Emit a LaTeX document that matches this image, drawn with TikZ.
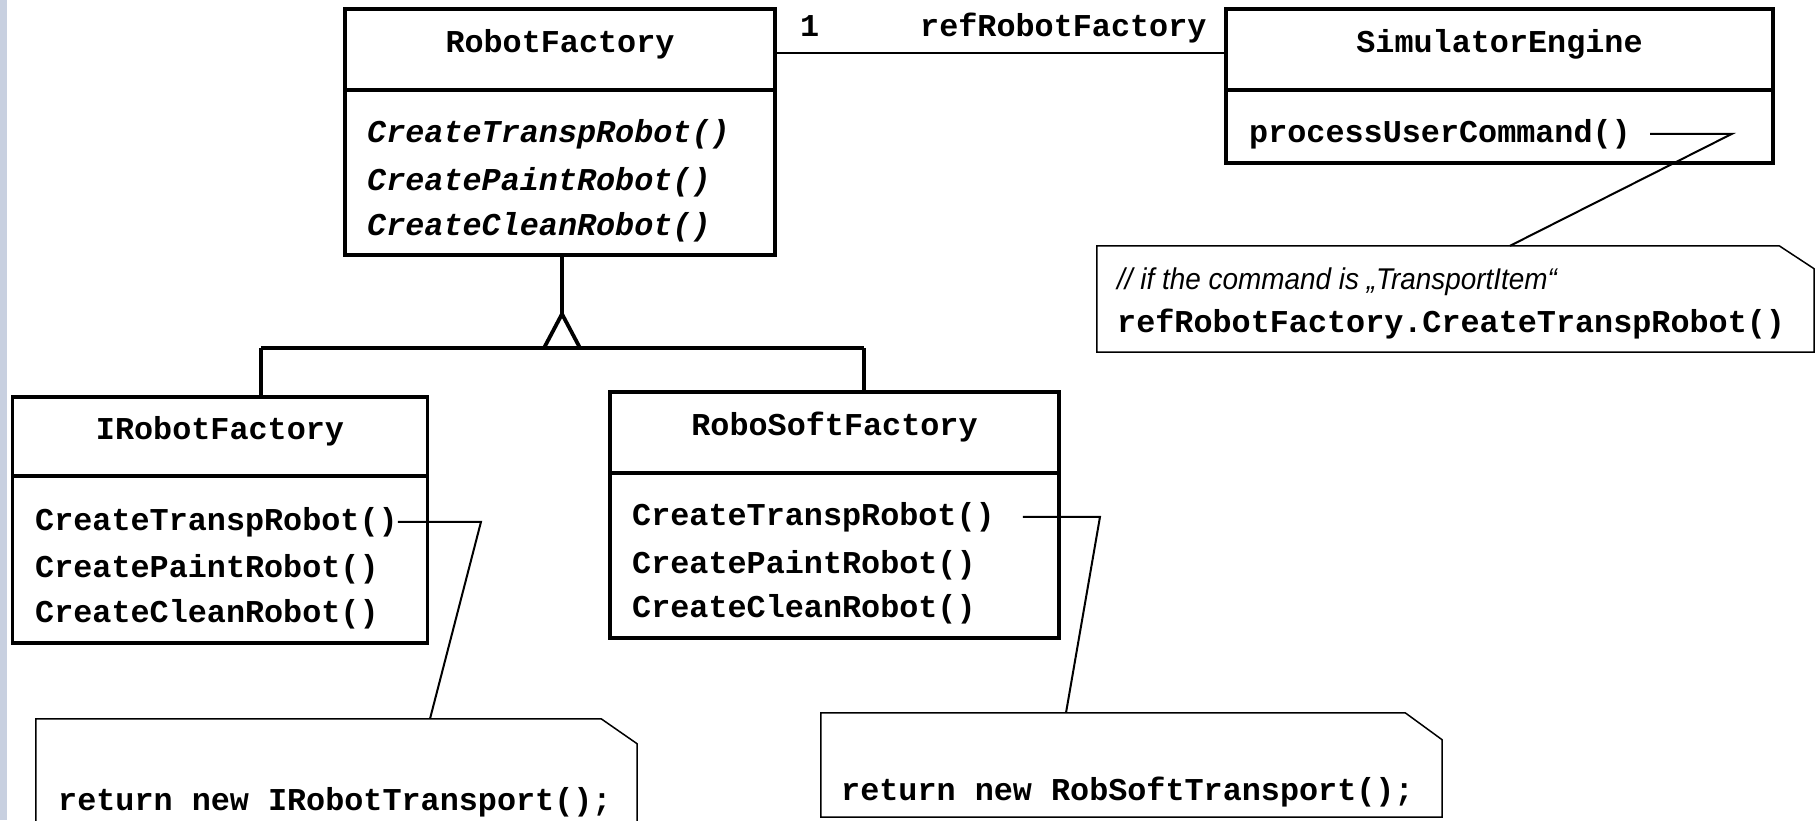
\documentclass[tikz,border=0pt]{standalone}
\usepackage{fontspec}
\setsansfont{Liberation Sans}
\setmonofont{Liberation Mono}
\newcommand\monofnt{\fontsize{31.8}{38}\selectfont\ttfamily\bfseries}
\newcommand\commfnt{\fontsize{30}{36}\selectfont\sffamily\itshape}
\definecolor{stripcol}{RGB}{200,208,224}
\tikzset{
  cls/.style={draw, line width=3.5pt, inner sep=0pt},
  notearea/.style={inner sep=0pt},
  noteline/.style={line width=1.5pt, line join=miter},
  conn/.style={line width=2pt},
  inh/.style={line width=3.8pt},
  sepline/.style={line width=3.5pt},
  txt/.style={anchor=base west, inner sep=0pt, font=\monofnt},
  ttl/.style={anchor=base, inner sep=0pt, font=\monofnt},
  comm/.style={anchor=base west, inner sep=0pt, font=\commfnt},
}
\begin{document}
\begin{tikzpicture}[x=1pt,y=-1pt]
\useasboundingbox (0,0) rectangle (1819,820);
\fill[stripcol] (0,0) rectangle (7,820);

% classes
\node[cls, minimum width=430pt, minimum height=246pt] (RF) at (560,132) {};
\node[cls, minimum width=547pt, minimum height=154pt] (SE) at (1499.5,86) {};
\node[cls, minimum width=415pt, minimum height=246pt] (IR) at (220,520) {};
\node[cls, minimum width=449pt, minimum height=246pt] (RS) at (834.5,515) {};

\draw[sepline] (RF.west |- 0,90) -- (RF.east |- 0,90);
\draw[sepline] (SE.west |- 0,90) -- (SE.east |- 0,90);
\draw[sepline] (IR.west |- 0,476) -- (IR.east |- 0,476);
\draw[sepline] (RS.west |- 0,473) -- (RS.east |- 0,473);

% titles
\node[ttl] (RFt) at (560,52) {RobotFactory};
\node[ttl] (SEt) at (1499.5,52) {SimulatorEngine};
\node[ttl] (IRt) at (220,439) {IRobotFactory};
\node[ttl] (RSt) at (834.5,435) {RoboSoftFactory};

% methods
\node[txt] (RFm1) at (367,142) {\itshape CreateTranspRobot()};
\node[txt] (RFm2) at (367,190) {\itshape CreatePaintRobot()};
\node[txt] (RFm3) at (367,235) {\itshape CreateCleanRobot()};
\node[txt] (SEm1) at (1249,142) {processUserCommand()};
\node[txt] (IRm1) at (35,530) {CreateTranspRobot()};
\node[txt] (IRm2) at (35,577) {CreatePaintRobot()};
\node[txt] (IRm3) at (35,622) {CreateCleanRobot()};
\node[txt] (RSm1) at (632,525) {CreateTranspRobot()};
\node[txt] (RSm2) at (632,573) {CreatePaintRobot()};
\node[txt] (RSm3) at (632,617) {CreateCleanRobot()};

% association
\draw[conn] (RF.east |- 0,53) -- (SE.west |- 0,53);
\node[txt] (mult) at (800,36) {1};
\node[txt] (role) at (920,36) {refRobotFactory};

% inheritance
\coordinate (apex) at (562,314);
\coordinate (bl) at (544,348);
\coordinate (br) at (580,348);
\coordinate (busL) at (261,348);
\coordinate (busR) at (864,348);
\draw[inh] (RF.south -| apex) -- (apex);
\draw[inh, line join=miter] (bl) -- (apex) -- (br);
\draw[inh] (busL) -- (busR);
\draw[inh] (busL) -- (IR.north -| busL);
\draw[inh] (busR) -- (RS.north -| busR);

% notes
\node[notearea, minimum width=717pt, minimum height=106pt] (N1) at (1455.5,299) {};
\draw[noteline] (N1.south west) -- (N1.north west) -- ([xshift=-35pt]N1.north east)
  -- ([yshift=-23pt]N1.north east) -- (N1.south east) -- cycle;
\node[comm] (N1c) at (1117,289) {\scalebox{0.93}[1]{// if the command is „TransportItem“}};
\node[txt] (N1t) at (1117,332) {refRobotFactory.CreateTranspRobot()};

\node[notearea, minimum width=601pt, minimum height=106pt] (N2) at (336.5,772) {};
\draw[noteline] (N2.south west) -- (N2.north west) -- ([xshift=-36pt]N2.north east)
  -- ([yshift=-25pt]N2.north east) -- (N2.south east) -- cycle;
\node[txt] (N2t) at (58,810) {return new IRobotTransport();};

\node[notearea, minimum width=621pt, minimum height=104pt] (N3) at (1131.5,765) {};
\draw[noteline] (N3.south west) -- (N3.north west) -- ([xshift=-37pt]N3.north east)
  -- ([yshift=-27pt]N3.north east) -- (N3.south east) -- cycle;
\node[txt] (N3t) at (841,800) {return new RobSoftTransport();};

% note connectors
\coordinate (k1) at (1732,0);
\coordinate (a1) at (1510,0);
\draw[conn] ([xshift=19pt]SEm1.east) -- (SEm1.east -| k1) -- (N1.north -| a1);
\coordinate (k2) at (481,0);
\coordinate (a2) at (430,0);
\draw[conn] (IRm1.east) -- (IRm1.east -| k2) -- (N2.north -| a2);
\coordinate (k3) at (1100,0);
\coordinate (a3) at (1066,0);
\draw[conn] ([xshift=28pt]RSm1.east) -- (RSm1.east -| k3) -- (N3.north -| a3);
\end{tikzpicture}
\end{document}
